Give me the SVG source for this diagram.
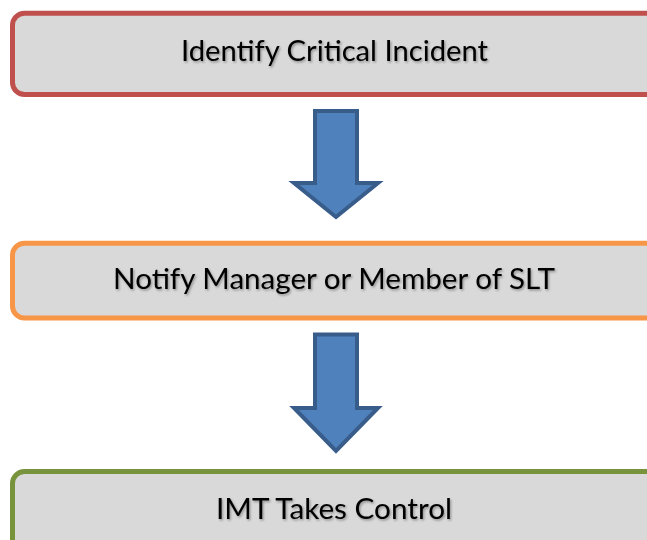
<svg xmlns="http://www.w3.org/2000/svg" width="647" height="540" viewBox="0 0 647 540">
<defs>
<filter id="ts" x="-10%" y="-30%" width="120%" height="160%">
<feDropShadow dx="1.2" dy="1.5" stdDeviation="0.8" flood-color="#000" flood-opacity="0.35"/>
</filter>
</defs>
<style>
.box{fill:#d9d9d9;stroke-width:5}
.lbl{font-family:Lato,"Open Sans",sans-serif;font-size:29px;fill:#000;text-anchor:middle;filter:url(#ts)}
.arr{fill:#4f81bd;stroke:#385d8a;stroke-width:4;stroke-linejoin:miter}
</style>
<g id="node1">
<rect class="box" x="12.5" y="13.3" width="660" height="81.2" rx="12" ry="12" stroke="#c0504d"/>
<text class="lbl" x="334.5" y="61" textLength="307" lengthAdjust="spacingAndGlyphs">Identify Critical Incident</text>
</g>
<g id="node2">
<rect class="box" x="12.5" y="243.3" width="660" height="74.7" rx="12" ry="12" stroke="#f79646"/>
<text class="lbl" x="334" y="289" textLength="442" lengthAdjust="spacingAndGlyphs">Notify Manager or Member of SLT</text>
</g>
<g id="node3">
<rect class="box" x="12.5" y="471.5" width="660" height="100" rx="12" ry="12" stroke="#77933c"/>
<text class="lbl" x="334" y="519" textLength="236" lengthAdjust="spacingAndGlyphs">IMT Takes Control</text>
</g>
<g id="connectors">
<polygon class="arr" points="315,111 357,111 357,183 378,183 336,217 294,183 315,183"/>
<polygon class="arr" points="315,334.5 357,334.5 357,408 378,408 336,451 294,408 315,408"/>
</g>
</svg>
